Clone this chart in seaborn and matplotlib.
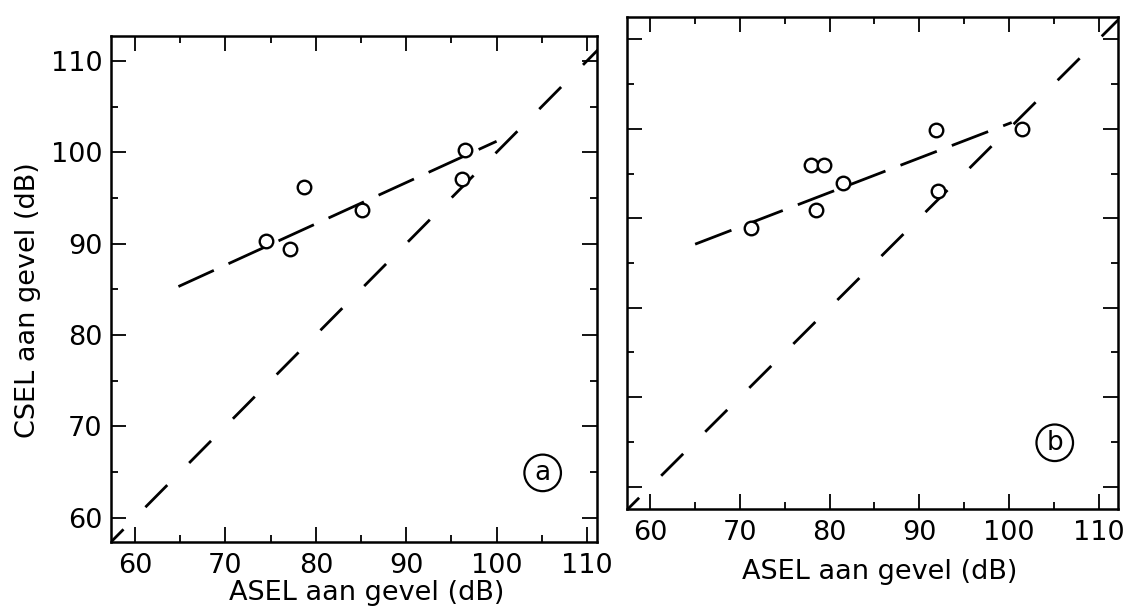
import numpy as np
import pandas as pd
import matplotlib
matplotlib.use("Agg")
import matplotlib.pyplot as plt
from matplotlib.ticker import MultipleLocator
import seaborn as sns

# --- data (de-skewed scan) ---
a_asel = [74.5, 77.1, 78.7, 85.1, 96.5, 96.2]
a_csel = [90.3, 89.4, 96.2, 93.7, 100.2, 97.1]
a_fit_x = [64.8, 100.0]
a_fit_y = [85.3, 101.2]

b_asel = [71.2, 78.5, 77.9, 79.4, 81.5, 91.9, 92.1, 101.5]
b_csel = [88.9, 90.9, 95.9, 95.9, 93.9, 99.9, 93.0, 100.0]
b_fit_x = [65.0, 100.3]
b_fit_y = [87.1, 100.7]

ref_line = [56.3, 114.0]          # y = x reference
ticks = [60, 70, 80, 90, 100, 110]
panels = ["a", "b"]

sns.set_theme(style="ticks")
plt.rcParams["font.family"] = ["DejaVu Sans"]
plt.rcParams["text.color"] = "black"
plt.rcParams["axes.labelcolor"] = "black"
plt.rcParams["xtick.color"] = "black"
plt.rcParams["ytick.color"] = "black"

fig = plt.figure(figsize=(11.35, 6.06), dpi=100)
ax_a = fig.add_axes([0.0975, 0.1051, 0.4284, 0.8351])
ax_b = fig.add_axes([0.5524, 0.1601, 0.4322, 0.8119])

data = [
    (ax_a, a_asel, a_csel, a_fit_x, a_fit_y, (57.3, 111.1), (57.3, 112.7)),
    (ax_b, b_asel, b_csel, b_fit_x, b_fit_y, (57.4, 112.1), (57.5, 112.5)),
]

for (ax, xs, ys, fx, fy, xl, yl), tag in zip(data, panels):
    df = pd.DataFrame({"ASEL": xs, "CSEL": ys})
    sns.lineplot(x=ref_line, y=ref_line, ax=ax, color="black", lw=2,
                 linestyle=(0, (11.2, 11.2)))
    sns.lineplot(x=fx, y=fy, ax=ax, color="black", lw=2,
                 linestyle=(0, (14, 5.8)))
    sns.scatterplot(data=df, x="ASEL", y="CSEL", ax=ax, marker="o", s=95,
                    facecolor="white", edgecolor="black", linewidth=1.7,
                    zorder=5)
    ax.set_xlim(*xl); ax.set_ylim(*yl)
    ax.set_xticks(ticks); ax.set_yticks(ticks)
    ax.xaxis.set_minor_locator(MultipleLocator(5))
    ax.yaxis.set_minor_locator(MultipleLocator(5))
    ax.tick_params(which="both", direction="in", top=True, right=True,
                   width=1.3, color="black", labelcolor="black")
    ax.tick_params(which="major", length=10.5, labelsize=19.5)
    ax.tick_params(which="minor", length=5)
    ax.tick_params(axis="x", pad=8)
    ax.tick_params(axis="y", pad=6)
    for s in ax.spines.values():
        s.set_linewidth(1.8); s.set_color("black")
    ax.text(105.1, 64.9, tag, fontsize=19, ha="center", va="center",
            bbox=dict(boxstyle="circle,pad=0.2", fc="white", ec="black", lw=1.6))
    ax.set_xlabel("ASEL aan gevel (dB)", fontsize=19.5)
    ax.set_ylabel("")

ax_a.set_ylabel("CSEL aan gevel (dB)", fontsize=19.5)
ax_a.yaxis.set_label_coords(0.0244, 0.505, transform=fig.transFigure)
ax_a.yaxis.label.set_va("center")
ax_a.xaxis.set_label_coords(0.323, 0.0215, transform=fig.transFigure)
ax_a.xaxis.label.set_va("center")
ax_b.xaxis.set_label_coords(0.7753, 0.0561, transform=fig.transFigure)
ax_b.xaxis.label.set_va("center")
ax_b.set_yticklabels([])

fig.savefig("out.png", dpi=100)
